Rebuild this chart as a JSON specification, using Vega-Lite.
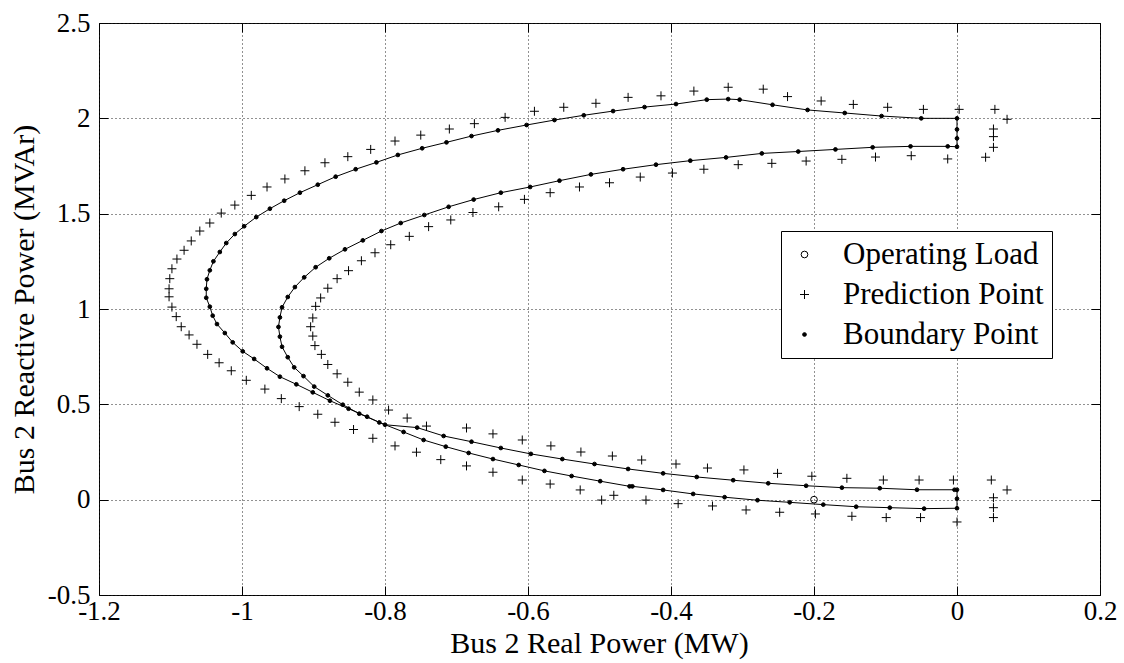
{
  "$schema": "https://vega.github.io/schema/vega-lite/v6.json",
  "width": 1001,
  "height": 572,
  "autosize": {"type": "none"},
  "padding": {"left": 99, "top": 23, "right": 24, "bottom": 68},
  "config": {
    "font": "'Liberation Serif', 'Times New Roman', Times, serif",
    "view": {"stroke": "black", "strokeWidth": 1},
    "axis": {
      "domainColor": "black",
      "tickColor": "black",
      "labelColor": "black",
      "titleColor": "black",
      "labelFont": "'Liberation Serif', 'Times New Roman', Times, serif",
      "titleFont": "'Liberation Serif', 'Times New Roman', Times, serif",
      "titleFontWeight": "normal"
    },
    "legend": {
      "labelFont": "'Liberation Serif', 'Times New Roman', Times, serif"
    }
  },
  "data": {
    "values": [
      {"p": -0.2, "q": 0.0, "type": "Operating Load"},

      {"p": 0, "q": 2.0, "seq": 1, "type": "Boundary Point"}, {"p": -0.05, "q": 2.0, "seq": 2, "type": "Boundary Point"},
      {"p": -0.1055, "q": 2.012, "seq": 3, "type": "Boundary Point"}, {"p": -0.157, "q": 2.028, "seq": 4, "type": "Boundary Point"},
      {"p": -0.209, "q": 2.044, "seq": 5, "type": "Boundary Point"}, {"p": -0.258, "q": 2.071, "seq": 6, "type": "Boundary Point"},
      {"p": -0.304, "q": 2.098, "seq": 7, "type": "Boundary Point"}, {"p": -0.32, "q": 2.101, "seq": 8, "type": "Boundary Point"},
      {"p": -0.35, "q": 2.098, "seq": 9, "type": "Boundary Point"}, {"p": -0.393, "q": 2.075, "seq": 10, "type": "Boundary Point"},
      {"p": -0.437, "q": 2.059, "seq": 11, "type": "Boundary Point"}, {"p": -0.481, "q": 2.038, "seq": 12, "type": "Boundary Point"},
      {"p": -0.522, "q": 2.016, "seq": 13, "type": "Boundary Point"}, {"p": -0.563, "q": 1.991, "seq": 14, "type": "Boundary Point"},
      {"p": -0.602, "q": 1.965, "seq": 15, "type": "Boundary Point"}, {"p": -0.642, "q": 1.937, "seq": 16, "type": "Boundary Point"},
      {"p": -0.679, "q": 1.907, "seq": 17, "type": "Boundary Point"}, {"p": -0.714, "q": 1.874, "seq": 18, "type": "Boundary Point"},
      {"p": -0.748, "q": 1.843, "seq": 19, "type": "Boundary Point"}, {"p": -0.782, "q": 1.808, "seq": 20, "type": "Boundary Point"},
      {"p": -0.812, "q": 1.769, "seq": 21, "type": "Boundary Point"}, {"p": -0.841, "q": 1.733, "seq": 22, "type": "Boundary Point"},
      {"p": -0.869, "q": 1.694, "seq": 23, "type": "Boundary Point"}, {"p": -0.894, "q": 1.652, "seq": 24, "type": "Boundary Point"},
      {"p": -0.919, "q": 1.61, "seq": 25, "type": "Boundary Point"}, {"p": -0.941, "q": 1.568, "seq": 26, "type": "Boundary Point"},
      {"p": -0.961, "q": 1.526, "seq": 27, "type": "Boundary Point"}, {"p": -0.98, "q": 1.482, "seq": 28, "type": "Boundary Point"},
      {"p": -0.997, "q": 1.434, "seq": 29, "type": "Boundary Point"}, {"p": -1.01, "q": 1.393, "seq": 30, "type": "Boundary Point"},
      {"p": -1.022, "q": 1.346, "seq": 31, "type": "Boundary Point"}, {"p": -1.031, "q": 1.299, "seq": 32, "type": "Boundary Point"},
      {"p": -1.04, "q": 1.25, "seq": 33, "type": "Boundary Point"}, {"p": -1.045, "q": 1.203, "seq": 34, "type": "Boundary Point"},
      {"p": -1.049, "q": 1.156, "seq": 35, "type": "Boundary Point"}, {"p": -1.05, "q": 1.106, "seq": 36, "type": "Boundary Point"},
      {"p": -1.05, "q": 1.059, "seq": 37, "type": "Boundary Point"}, {"p": -1.045, "q": 1.012, "seq": 38, "type": "Boundary Point"},
      {"p": -1.041, "q": 0.965, "seq": 39, "type": "Boundary Point"}, {"p": -1.035, "q": 0.921, "seq": 40, "type": "Boundary Point"},
      {"p": -1.024, "q": 0.874, "seq": 41, "type": "Boundary Point"}, {"p": -1.013, "q": 0.825, "seq": 42, "type": "Boundary Point"},
      {"p": -0.999, "q": 0.778, "seq": 43, "type": "Boundary Point"}, {"p": -0.983, "q": 0.738, "seq": 44, "type": "Boundary Point"},
      {"p": -0.965, "q": 0.689, "seq": 45, "type": "Boundary Point"}, {"p": -0.947, "q": 0.645, "seq": 46, "type": "Boundary Point"},
      {"p": -0.924, "q": 0.605, "seq": 47, "type": "Boundary Point"}, {"p": -0.901, "q": 0.563, "seq": 48, "type": "Boundary Point"},
      {"p": -0.877, "q": 0.519, "seq": 49, "type": "Boundary Point"}, {"p": -0.851, "q": 0.477, "seq": 50, "type": "Boundary Point"},
      {"p": -0.825, "q": 0.435, "seq": 51, "type": "Boundary Point"}, {"p": -0.808, "q": 0.405, "seq": 52, "type": "Boundary Point"},
      {"p": -0.774, "q": 0.355, "seq": 53, "type": "Boundary Point"}, {"p": -0.746, "q": 0.313, "seq": 54, "type": "Boundary Point"},
      {"p": -0.715, "q": 0.278, "seq": 55, "type": "Boundary Point"}, {"p": -0.683, "q": 0.245, "seq": 56, "type": "Boundary Point"},
      {"p": -0.649, "q": 0.213, "seq": 57, "type": "Boundary Point"}, {"p": -0.613, "q": 0.182, "seq": 58, "type": "Boundary Point"},
      {"p": -0.577, "q": 0.151, "seq": 59, "type": "Boundary Point"}, {"p": -0.539, "q": 0.124, "seq": 60, "type": "Boundary Point"},
      {"p": -0.499, "q": 0.097, "seq": 61, "type": "Boundary Point"}, {"p": -0.458, "q": 0.07, "seq": 62, "type": "Boundary Point"},
      {"p": -0.454, "q": 0.07, "seq": 63, "type": "Boundary Point"}, {"p": -0.411, "q": 0.051, "seq": 64, "type": "Boundary Point"},
      {"p": -0.369, "q": 0.03, "seq": 65, "type": "Boundary Point"}, {"p": -0.325, "q": 0.013, "seq": 66, "type": "Boundary Point"},
      {"p": -0.279, "q": -0.003, "seq": 67, "type": "Boundary Point"}, {"p": -0.234, "q": -0.014, "seq": 68, "type": "Boundary Point"},
      {"p": -0.187, "q": -0.026, "seq": 69, "type": "Boundary Point"}, {"p": -0.141, "q": -0.037, "seq": 70, "type": "Boundary Point"},
      {"p": -0.094, "q": -0.042, "seq": 71, "type": "Boundary Point"}, {"p": -0.046, "q": -0.047, "seq": 72, "type": "Boundary Point"},
      {"p": 0, "q": -0.045, "seq": 73, "type": "Boundary Point"}, {"p": 0, "q": 0.005, "seq": 74, "type": "Boundary Point"},
      {"p": 0, "q": 0.052, "seq": 75, "type": "Boundary Point"}, {"p": -0.0035, "q": 0.052, "seq": 76, "type": "Boundary Point"},
      {"p": -0.056, "q": 0.052, "seq": 77, "type": "Boundary Point"}, {"p": -0.108, "q": 0.06, "seq": 78, "type": "Boundary Point"},
      {"p": -0.161, "q": 0.063, "seq": 79, "type": "Boundary Point"}, {"p": -0.211, "q": 0.073, "seq": 80, "type": "Boundary Point"},
      {"p": -0.264, "q": 0.086, "seq": 81, "type": "Boundary Point"}, {"p": -0.313, "q": 0.102, "seq": 82, "type": "Boundary Point"},
      {"p": -0.364, "q": 0.119, "seq": 83, "type": "Boundary Point"}, {"p": -0.411, "q": 0.138, "seq": 84, "type": "Boundary Point"},
      {"p": -0.46, "q": 0.161, "seq": 85, "type": "Boundary Point"}, {"p": -0.507, "q": 0.187, "seq": 86, "type": "Boundary Point"},
      {"p": -0.552, "q": 0.213, "seq": 87, "type": "Boundary Point"}, {"p": -0.596, "q": 0.24, "seq": 88, "type": "Boundary Point"},
      {"p": -0.638, "q": 0.271, "seq": 89, "type": "Boundary Point"}, {"p": -0.679, "q": 0.304, "seq": 90, "type": "Boundary Point"},
      {"p": -0.718, "q": 0.334, "seq": 91, "type": "Boundary Point"}, {"p": -0.755, "q": 0.378, "seq": 92, "type": "Boundary Point"},
      {"p": -0.8, "q": 0.393, "seq": 93, "type": "Boundary Point"}, {"p": -0.836, "q": 0.451, "seq": 94, "type": "Boundary Point"},
      {"p": -0.859, "q": 0.498, "seq": 95, "type": "Boundary Point"}, {"p": -0.88, "q": 0.547, "seq": 96, "type": "Boundary Point"},
      {"p": -0.899, "q": 0.593, "seq": 97, "type": "Boundary Point"}, {"p": -0.914, "q": 0.648, "seq": 98, "type": "Boundary Point"},
      {"p": -0.927, "q": 0.694, "seq": 99, "type": "Boundary Point"}, {"p": -0.936, "q": 0.747, "seq": 100, "type": "Boundary Point"},
      {"p": -0.944, "q": 0.802, "seq": 101, "type": "Boundary Point"}, {"p": -0.947, "q": 0.855, "seq": 102, "type": "Boundary Point"},
      {"p": -0.949, "q": 0.906, "seq": 103, "type": "Boundary Point"}, {"p": -0.947, "q": 0.956, "seq": 104, "type": "Boundary Point"},
      {"p": -0.944, "q": 1.009, "seq": 105, "type": "Boundary Point"}, {"p": -0.936, "q": 1.063, "seq": 106, "type": "Boundary Point"},
      {"p": -0.926, "q": 1.115, "seq": 107, "type": "Boundary Point"}, {"p": -0.913, "q": 1.166, "seq": 108, "type": "Boundary Point"},
      {"p": -0.897, "q": 1.219, "seq": 109, "type": "Boundary Point"}, {"p": -0.878, "q": 1.266, "seq": 110, "type": "Boundary Point"},
      {"p": -0.856, "q": 1.313, "seq": 111, "type": "Boundary Point"}, {"p": -0.831, "q": 1.36, "seq": 112, "type": "Boundary Point"},
      {"p": -0.805, "q": 1.409, "seq": 113, "type": "Boundary Point"}, {"p": -0.778, "q": 1.451, "seq": 114, "type": "Boundary Point"},
      {"p": -0.745, "q": 1.493, "seq": 115, "type": "Boundary Point"}, {"p": -0.711, "q": 1.536, "seq": 116, "type": "Boundary Point"},
      {"p": -0.676, "q": 1.574, "seq": 117, "type": "Boundary Point"}, {"p": -0.638, "q": 1.61, "seq": 118, "type": "Boundary Point"},
      {"p": -0.597, "q": 1.64, "seq": 119, "type": "Boundary Point"}, {"p": -0.556, "q": 1.673, "seq": 120, "type": "Boundary Point"},
      {"p": -0.512, "q": 1.706, "seq": 121, "type": "Boundary Point"}, {"p": -0.467, "q": 1.733, "seq": 122, "type": "Boundary Point"},
      {"p": -0.421, "q": 1.757, "seq": 123, "type": "Boundary Point"}, {"p": -0.373, "q": 1.778, "seq": 124, "type": "Boundary Point"},
      {"p": -0.323, "q": 1.795, "seq": 125, "type": "Boundary Point"}, {"p": -0.273, "q": 1.816, "seq": 126, "type": "Boundary Point"},
      {"p": -0.222, "q": 1.826, "seq": 127, "type": "Boundary Point"}, {"p": -0.17, "q": 1.837, "seq": 128, "type": "Boundary Point"},
      {"p": -0.118, "q": 1.848, "seq": 129, "type": "Boundary Point"}, {"p": -0.065, "q": 1.853, "seq": 130, "type": "Boundary Point"},
      {"p": -0.013, "q": 1.853, "seq": 131, "type": "Boundary Point"}, {"p": 0, "q": 1.851, "seq": 132, "type": "Boundary Point"},
      {"p": 0, "q": 1.895, "seq": 133, "type": "Boundary Point"}, {"p": 0, "q": 1.942, "seq": 134, "type": "Boundary Point"},

      {"p": 0.003, "q": 2.047, "type": "Prediction Point"}, {"p": -0.047, "q": 2.047, "type": "Prediction Point"},
      {"p": -0.097, "q": 2.058, "type": "Prediction Point"}, {"p": -0.145, "q": 2.073, "type": "Prediction Point"},
      {"p": -0.19, "q": 2.091, "type": "Prediction Point"}, {"p": -0.237, "q": 2.114, "type": "Prediction Point"},
      {"p": -0.271, "q": 2.153, "type": "Prediction Point"}, {"p": -0.32, "q": 2.163, "type": "Prediction Point"},
      {"p": -0.368, "q": 2.143, "type": "Prediction Point"}, {"p": -0.414, "q": 2.118, "type": "Prediction Point"},
      {"p": -0.46, "q": 2.11, "type": "Prediction Point"}, {"p": -0.505, "q": 2.079, "type": "Prediction Point"},
      {"p": -0.55, "q": 2.058, "type": "Prediction Point"}, {"p": -0.591, "q": 2.037, "type": "Prediction Point"},
      {"p": -0.632, "q": 2.005, "type": "Prediction Point"}, {"p": -0.675, "q": 1.972, "type": "Prediction Point"},
      {"p": -0.71, "q": 1.944, "type": "Prediction Point"}, {"p": -0.75, "q": 1.912, "type": "Prediction Point"},
      {"p": -0.786, "q": 1.881, "type": "Prediction Point"}, {"p": -0.82, "q": 1.837, "type": "Prediction Point"},
      {"p": -0.852, "q": 1.799, "type": "Prediction Point"}, {"p": -0.884, "q": 1.767, "type": "Prediction Point"},
      {"p": -0.912, "q": 1.725, "type": "Prediction Point"}, {"p": -0.94, "q": 1.682, "type": "Prediction Point"},
      {"p": -0.965, "q": 1.64, "type": "Prediction Point"}, {"p": -0.987, "q": 1.596, "type": "Prediction Point"},
      {"p": -1.01, "q": 1.545, "type": "Prediction Point"}, {"p": -1.029, "q": 1.503, "type": "Prediction Point"},
      {"p": -1.045, "q": 1.451, "type": "Prediction Point"}, {"p": -1.059, "q": 1.409, "type": "Prediction Point"},
      {"p": -1.071, "q": 1.357, "type": "Prediction Point"}, {"p": -1.081, "q": 1.308, "type": "Prediction Point"},
      {"p": -1.091, "q": 1.262, "type": "Prediction Point"}, {"p": -1.098, "q": 1.211, "type": "Prediction Point"},
      {"p": -1.101, "q": 1.159, "type": "Prediction Point"}, {"p": -1.102, "q": 1.106, "type": "Prediction Point"},
      {"p": -1.102, "q": 1.064, "type": "Prediction Point"}, {"p": -1.098, "q": 1.01, "type": "Prediction Point"},
      {"p": -1.092, "q": 0.96, "type": "Prediction Point"}, {"p": -1.085, "q": 0.907, "type": "Prediction Point"},
      {"p": -1.074, "q": 0.864, "type": "Prediction Point"}, {"p": -1.063, "q": 0.815, "type": "Prediction Point"},
      {"p": -1.048, "q": 0.762, "type": "Prediction Point"}, {"p": -1.032, "q": 0.718, "type": "Prediction Point"},
      {"p": -1.015, "q": 0.676, "type": "Prediction Point"}, {"p": -0.994, "q": 0.626, "type": "Prediction Point"},
      {"p": -0.968, "q": 0.58, "type": "Prediction Point"}, {"p": -0.945, "q": 0.53, "type": "Prediction Point"},
      {"p": -0.92, "q": 0.488, "type": "Prediction Point"}, {"p": -0.894, "q": 0.448, "type": "Prediction Point"},
      {"p": -0.87, "q": 0.406, "type": "Prediction Point"}, {"p": -0.844, "q": 0.368, "type": "Prediction Point"},
      {"p": -0.817, "q": 0.322, "type": "Prediction Point"}, {"p": -0.786, "q": 0.282, "type": "Prediction Point"},
      {"p": -0.756, "q": 0.249, "type": "Prediction Point"}, {"p": -0.722, "q": 0.21, "type": "Prediction Point"},
      {"p": -0.686, "q": 0.177, "type": "Prediction Point"}, {"p": -0.649, "q": 0.144, "type": "Prediction Point"},
      {"p": -0.608, "q": 0.103, "type": "Prediction Point"}, {"p": -0.569, "q": 0.082, "type": "Prediction Point"},
      {"p": -0.527, "q": 0.051, "type": "Prediction Point"}, {"p": -0.497, "q": -0.002, "type": "Prediction Point"},
      {"p": -0.48, "q": 0.023, "type": "Prediction Point"}, {"p": -0.435, "q": -0.002, "type": "Prediction Point"},
      {"p": -0.39, "q": -0.021, "type": "Prediction Point"}, {"p": -0.342, "q": -0.033, "type": "Prediction Point"},
      {"p": -0.295, "q": -0.054, "type": "Prediction Point"}, {"p": -0.248, "q": -0.066, "type": "Prediction Point"},
      {"p": -0.198, "q": -0.075, "type": "Prediction Point"}, {"p": -0.147, "q": -0.087, "type": "Prediction Point"},
      {"p": -0.099, "q": -0.094, "type": "Prediction Point"}, {"p": -0.051, "q": -0.094, "type": "Prediction Point"},
      {"p": 0, "q": -0.117, "type": "Prediction Point"},
      {"p": -0.013, "q": 1.787, "type": "Prediction Point"}, {"p": -0.064, "q": 1.804, "type": "Prediction Point"},
      {"p": -0.114, "q": 1.797, "type": "Prediction Point"}, {"p": -0.161, "q": 1.785, "type": "Prediction Point"},
      {"p": -0.211, "q": 1.776, "type": "Prediction Point"}, {"p": -0.259, "q": 1.764, "type": "Prediction Point"},
      {"p": -0.306, "q": 1.757, "type": "Prediction Point"}, {"p": -0.354, "q": 1.733, "type": "Prediction Point"},
      {"p": -0.398, "q": 1.713, "type": "Prediction Point"}, {"p": -0.443, "q": 1.692, "type": "Prediction Point"},
      {"p": -0.486, "q": 1.662, "type": "Prediction Point"}, {"p": -0.528, "q": 1.64, "type": "Prediction Point"},
      {"p": -0.569, "q": 1.61, "type": "Prediction Point"}, {"p": -0.605, "q": 1.575, "type": "Prediction Point"},
      {"p": -0.641, "q": 1.536, "type": "Prediction Point"}, {"p": -0.677, "q": 1.506, "type": "Prediction Point"},
      {"p": -0.708, "q": 1.467, "type": "Prediction Point"}, {"p": -0.739, "q": 1.432, "type": "Prediction Point"},
      {"p": -0.766, "q": 1.381, "type": "Prediction Point"}, {"p": -0.792, "q": 1.337, "type": "Prediction Point"},
      {"p": -0.814, "q": 1.295, "type": "Prediction Point"}, {"p": -0.833, "q": 1.253, "type": "Prediction Point"},
      {"p": -0.851, "q": 1.201, "type": "Prediction Point"}, {"p": -0.867, "q": 1.159, "type": "Prediction Point"},
      {"p": -0.88, "q": 1.109, "type": "Prediction Point"}, {"p": -0.89, "q": 1.058, "type": "Prediction Point"},
      {"p": -0.897, "q": 1.014, "type": "Prediction Point"}, {"p": -0.901, "q": 0.953, "type": "Prediction Point"},
      {"p": -0.904, "q": 0.907, "type": "Prediction Point"}, {"p": -0.901, "q": 0.858, "type": "Prediction Point"},
      {"p": -0.898, "q": 0.808, "type": "Prediction Point"}, {"p": -0.889, "q": 0.762, "type": "Prediction Point"},
      {"p": -0.88, "q": 0.709, "type": "Prediction Point"}, {"p": -0.867, "q": 0.66, "type": "Prediction Point"},
      {"p": -0.852, "q": 0.616, "type": "Prediction Point"}, {"p": -0.836, "q": 0.564, "type": "Prediction Point"},
      {"p": -0.817, "q": 0.523, "type": "Prediction Point"}, {"p": -0.795, "q": 0.47, "type": "Prediction Point"},
      {"p": -0.769, "q": 0.428, "type": "Prediction Point"}, {"p": -0.742, "q": 0.386, "type": "Prediction Point"},
      {"p": -0.686, "q": 0.376, "type": "Prediction Point"}, {"p": -0.649, "q": 0.345, "type": "Prediction Point"},
      {"p": -0.608, "q": 0.313, "type": "Prediction Point"}, {"p": -0.568, "q": 0.282, "type": "Prediction Point"},
      {"p": -0.526, "q": 0.25, "type": "Prediction Point"}, {"p": -0.482, "q": 0.229, "type": "Prediction Point"},
      {"p": -0.441, "q": 0.208, "type": "Prediction Point"}, {"p": -0.393, "q": 0.187, "type": "Prediction Point"},
      {"p": -0.349, "q": 0.166, "type": "Prediction Point"}, {"p": -0.298, "q": 0.156, "type": "Prediction Point"},
      {"p": -0.251, "q": 0.138, "type": "Prediction Point"}, {"p": -0.203, "q": 0.123, "type": "Prediction Point"},
      {"p": -0.154, "q": 0.112, "type": "Prediction Point"}, {"p": -0.103, "q": 0.103, "type": "Prediction Point"},
      {"p": -0.053, "q": 0.103, "type": "Prediction Point"}, {"p": -0.005, "q": 0.103, "type": "Prediction Point"},
      {"p": 0.053, "q": 2.047, "type": "Prediction Point"}, {"p": 0.07, "q": 1.995, "type": "Prediction Point"},
      {"p": 0.051, "q": 1.944, "type": "Prediction Point"}, {"p": 0.051, "q": 1.904, "type": "Prediction Point"},
      {"p": 0.051, "q": 1.848, "type": "Prediction Point"}, {"p": 0.04, "q": 1.796, "type": "Prediction Point"},
      {"p": 0.048, "q": 0.103, "type": "Prediction Point"}, {"p": 0.07, "q": 0.051, "type": "Prediction Point"},
      {"p": 0.051, "q": 0.01, "type": "Prediction Point"}, {"p": 0.051, "q": -0.042, "type": "Prediction Point"},
      {"p": 0.051, "q": -0.094, "type": "Prediction Point"}
    ]
  },
  "encoding": {
    "x": {
      "field": "p", "type": "quantitative",
      "scale": {"domain": [-1.2, 0.2], "nice": false, "zero": false}
    },
    "y": {
      "field": "q", "type": "quantitative",
      "scale": {"domain": [-0.5, 2.5], "nice": false, "zero": false}
    }
  },
  "layer": [
    {
      "transform": [{"filter": "datum.type === 'Boundary Point'"}],
      "mark": {"type": "line", "interpolate": "linear-closed", "color": "black", "strokeWidth": 1},
      "encoding": {
        "x": {
          "field": "p", "type": "quantitative",
          "axis": {"orient": "top", "values": [-1.2, -1, -0.8, -0.6, -0.4, -0.2, 0, 0.2], "labels": false, "grid": false, "domain": false, "title": null, "tickSize": -9}
        },
        "y": {
          "field": "q", "type": "quantitative",
          "axis": {"orient": "right", "values": [-0.5, 0, 0.5, 1, 1.5, 2, 2.5], "labels": false, "grid": false, "domain": false, "title": null, "tickSize": -9}
        },
        "order": {"field": "seq", "type": "quantitative"}
      }
    },
    {
      "mark": {"type": "point", "stroke": "black", "strokeWidth": 1, "opacity": 1},
      "encoding": {
        "x": {
          "field": "p", "type": "quantitative",
          "title": "Bus 2 Real Power (MW)",
          "axis": {
            "orient": "bottom", "values": [-1.2, -1, -0.8, -0.6, -0.4, -0.2, 0, 0.2],
            "grid": true, "gridColor": "#222", "gridDash": [1, 3], "gridWidth": 1,
            "domain": false, "tickSize": -9, "labelPadding": 12, "labelFontSize": 27,
            "labelExpr": "replace(format(datum.value, '~g'), '\u2212', '-')",
            "labelFlush": false,
            "encode": {"labels": {"update": {"dx": {"signal": "datum.value < -1.1 ? 18 : 0"}}}},
            "titleFontSize": 30, "titleBaseline": "alphabetic", "titleY": 57, "titleX": 500
          }
        },
        "y": {
          "field": "q", "type": "quantitative",
          "title": "Bus 2 Reactive Power (MVAr)",
          "axis": {
            "orient": "left", "values": [-0.5, 0, 0.5, 1, 1.5, 2, 2.5],
            "grid": true, "gridColor": "#222", "gridDash": [1, 3], "gridWidth": 1,
            "domain": false, "tickSize": -9, "labelPadding": 18, "labelFontSize": 27,
            "labelExpr": "replace(format(datum.value, '~g'), '\u2212', '-')",
            "encode": {"labels": {"update": {"dy": {"signal": "datum.value < -0.4 ? -5 : 0"}}}},
            "titleFontSize": 30, "titleBaseline": "alphabetic", "titleAngle": 270, "titleX": -66, "titleY": 286
          }
        },
        "shape": {
          "field": "type", "type": "nominal",
          "scale": {"domain": ["Operating Load", "Prediction Point", "Boundary Point"], "range": ["circle", "M-1,0H1M0,-1V1", "circle"]},
          "legend": {
            "title": null, "orient": "none", "legendX": 682, "legendY": 208,
            "padding": 8, "strokeColor": "black", "fillColor": "white",
            "labelFontSize": 31, "labelColor": "black", "labelLimit": 400,
            "labelExpr": "datum.label + '\u00a0\u00a0'",
            "rowPadding": 8, "symbolStrokeColor": "black", "symbolStrokeWidth": 1,
            "symbolOffset": 0, "labelOffset": 23
          }
        },
        "size": {
          "field": "type", "type": "nominal",
          "scale": {"type": "ordinal", "domain": ["Operating Load", "Prediction Point", "Boundary Point"], "range": [45, 81, 14]}
        },
        "fill": {
          "field": "type", "type": "nominal",
          "scale": {"domain": ["Operating Load", "Prediction Point", "Boundary Point"], "range": ["transparent", "transparent", "black"]}
        }
      }
    }
  ],
  "resolve": {"axis": {"x": "independent", "y": "independent"}}
}
